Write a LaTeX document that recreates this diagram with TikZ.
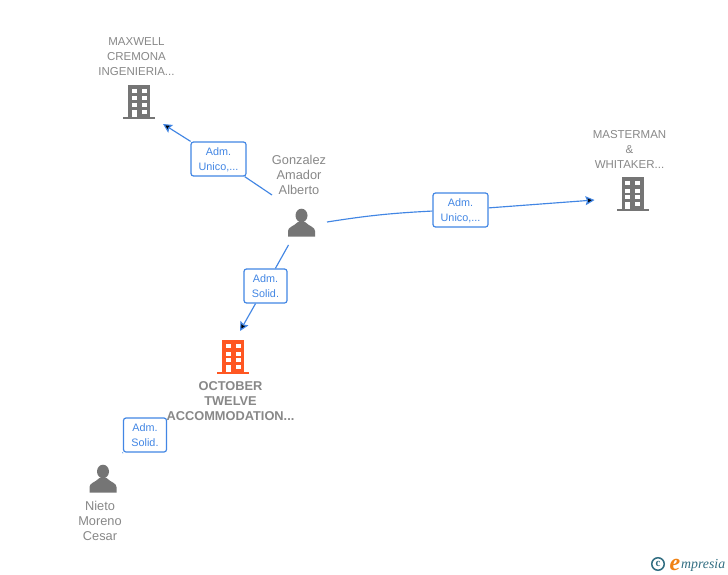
\documentclass[tikz,border=0pt]{standalone}
\usepackage{fontspec}
\setmainfont{Liberation Sans}
\newfontfamily\logofont{Liberation Serif}
\usetikzlibrary{arrows.meta,positioning}

\definecolor{linkblue}{RGB}{66,134,228}
\definecolor{icongray}{RGB}{117,117,117}
\definecolor{textgray}{RGB}{136,136,136}
\definecolor{mainorange}{RGB}{255,87,34}
\definecolor{logoteal}{RGB}{50,110,130}
\definecolor{logoorange}{RGB}{240,130,20}

\tikzset{
  iconspot/.style={inner sep=0pt,minimum width=32pt,minimum height=34pt},
  company/.style={text=textgray,align=center,inner sep=0pt,font=\fontsize{11.5}{15}\selectfont},
  mainco/.style={text=textgray,align=center,inner sep=0pt,font=\fontsize{12.8}{15}\selectfont\bfseries},
  person/.style={text=textgray,align=center,inner sep=0pt,font=\fontsize{12.8}{15}\selectfont},
  rolebox/.style={draw=linkblue,fill=white,text=linkblue,rounded corners=2.5pt,line width=1.2pt,
    align=center,inner sep=0pt,text height=26pt,text depth=2.5pt,font=\fontsize{10.8}{15}\selectfont},
  link/.style={draw=linkblue,line width=1.15pt},
  tip/.style={-{Stealth[length=9pt,width=9pt,inset=1.5pt]}},
  pics/buildingicon/.style={code={
    \fill[#1] (-11,-17) rectangle (11,15);
    \fill[#1] (-16,15) rectangle (16,17);
    \foreach \wx in {-7.5,2.5}
      \foreach \wy in {-13,-5.5,1.2}
        \fill[white] (\wx,\wy) rectangle +(5,4);
    \fill[white] (2.5,8) rectangle +(5,4);
    \fill[white] (-7.5,8) rectangle (-2.5,15);
  }},
  pics/personicon/.style={code={
    \fill[#1] (0,-7.5) ellipse (6 and 6.8);
    \fill[#1] (-13.5,13.5) -- (-13.5,8) .. controls (-13.5,4) and (-8,3.5) .. (-3.5,-1)
      -- (3.5,-1) .. controls (8,3.5) and (13.5,4) .. (13.5,8) -- (13.5,13.5) -- cycle;
  }}
}

\begin{document}
\begin{tikzpicture}[x=1pt,y=-1pt,node distance=45pt]
  \useasboundingbox[fill=white] (0,0) rectangle (728,575);

  % icons
  \node[iconspot] (maxwell) at (139,102) {};
  \node[iconspot] (masterman) at (632.5,194) {};
  \node[iconspot] (october) at (233,357) {};
  \node[iconspot] (gonzalez) at (301.5,223) {};
  \node[iconspot] (nieto) at (103,479) {};
  \pic at (maxwell) {buildingicon=icongray};
  \pic at (masterman) {buildingicon=icongray};
  \pic at (october) {buildingicon=mainorange};
  \pic at (gonzalez) {personicon=icongray};
  \pic at (nieto) {personicon=icongray};

  % names
  \node[company] (maxwelltxt) [above of=maxwell,xshift=-2.5pt] {MAXWELL\\CREMONA\\INGENIERIA...};
  \node[company] (mastermantxt) [above of=masterman,xshift=-3pt] {MASTERMAN\\\&\\WHITAKER...};
  \node[mainco] (octobertxt) [below of=october,xshift=-2.5pt,yshift=1pt] {OCTOBER\\TWELVE\\ACCOMMODATION...};
  \node[person] (gonzaleztxt) [above of=gonzalez,xshift=-2.5pt,yshift=3pt] {Gonzalez\\Amador\\Alberto};
  \node[person] (nietotxt) [below of=nieto,xshift=-3pt,yshift=3.5pt] {Nieto\\Moreno\\Cesar};

  % roles
  \node[rolebox,minimum width=55pt,minimum height=34pt] (rolemaxwell) at (218.5,159) {Adm.\\Unico,...};
  \node[rolebox,minimum width=55pt,minimum height=34pt] (rolemasterman) at (460.5,210) {Adm.\\Unico,...};
  \node[rolebox,minimum width=43pt,minimum height=34pt] (roleoctober) at (265.5,286) {Adm.\\Solid.};
  \node[rolebox,minimum width=43pt,minimum height=34pt] (rolenieto) at (145,435) {Adm.\\Solid.};

  % free ends
  \coordinate (g1) at (272,195);
  \coordinate (g2) at (327,222);
  \coordinate (g3) at (288.5,245);
  \coordinate (n1) at (122.5,453);
  \coordinate (t1) at (163,124);
  \coordinate (t2) at (594.5,200);
  \coordinate (t3) at (240,331);

  \path[link]
  (g1) edge (rolemaxwell)
  (rolemaxwell) edge [tip] (t1)

  (g2) edge [bend left=3] (rolemasterman)
  (rolemasterman) edge [tip] (t2)

  (g3) edge (roleoctober)
  (roleoctober) edge [tip] (t3)

  (n1) edge (rolenieto)
  ;

  % logo
  \node[draw=logoteal,circle,line width=1.5pt,minimum size=12.5pt,inner sep=0pt,text=logoteal,
    font=\logofont\bfseries\fontsize{11}{11}\selectfont] (logoc) at (658,564) {c};
  \node[text=logoorange,inner sep=0pt,font=\logofont\itshape\bfseries\fontsize{24}{24}\selectfont,anchor=base west] (logoe) at (669.5,570) {e};
  \node[text=logoteal,inner sep=0pt,font=\logofont\itshape\fontsize{13.8}{13.8}\selectfont,anchor=base west] (logot) at (681,568.5) {mpresia};
\end{tikzpicture}
\end{document}
